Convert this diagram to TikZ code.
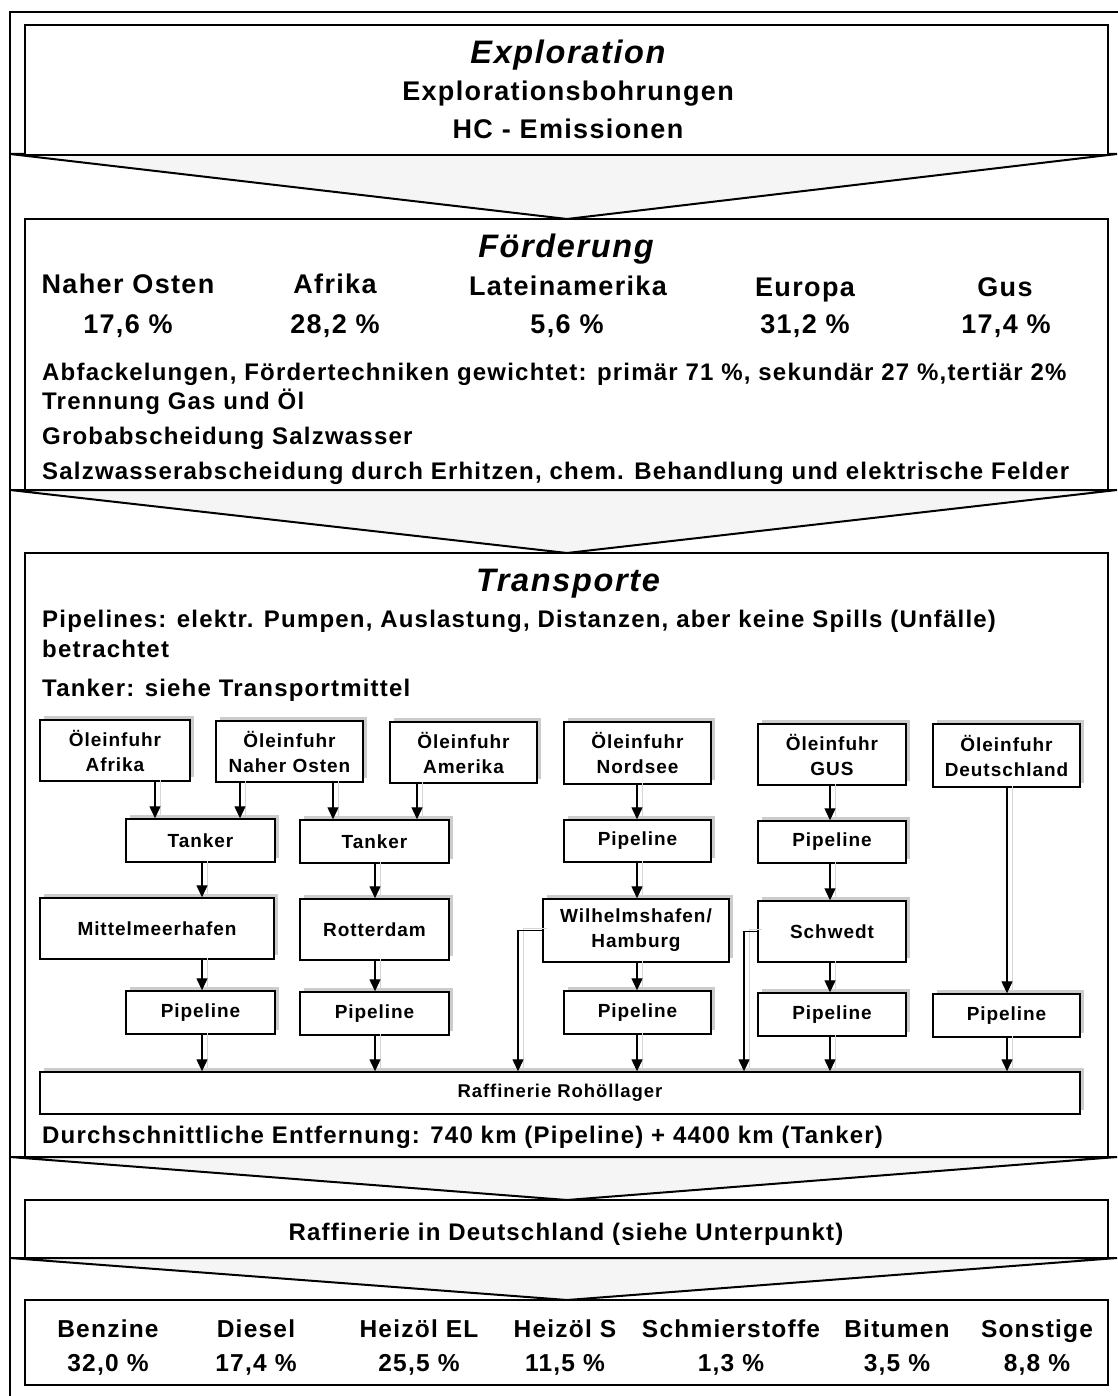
\documentclass[tikz,border=0pt]{standalone}
\usepackage{fontspec}
\setmainfont{Liberation Sans}[LetterSpace=5]
\usetikzlibrary{arrows.meta,shadows}
\newcommand\sbfont{\fontsize{19}{25}\selectfont\bfseries}
\newcommand\fz[1]{\fontsize{#1}{#1}\selectfont\bfseries}
\tikzset{
 big/.style={draw, line width=1.8pt, fill=white, inner sep=0},
 chev/.style={draw, line width=2pt, fill=black!4, line join=miter},
 sbox/.style={draw, line width=1.4pt, fill=white, inner sep=0, align=center, font=\sbfont,
   drop shadow={shadow xshift=4pt, shadow yshift=4pt, fill=black!20, opacity=1}},
 arr/.style={line width=1.2pt, -{Triangle[length=12pt,width=11pt]},
   preaction={draw=black!16, line width=1pt, -, transform canvas={xshift=5pt,yshift=2pt}}},
 txt/.style={inner sep=0, anchor=base west},
 ctxt/.style={inner sep=0, anchor=base},
 frame/.style={line width=1.8pt},
}
\begin{document}
\begin{tikzpicture}[x=1pt,y=-1pt]
\useasboundingbox (0,0) rectangle (1117,1396);
% outer frame
\draw[frame] (10,1400) -- (10,12) -- (1120,12);
% chevrons
\draw[chev] (10,154) -- (1117,154) -- (567,219) -- cycle;
\draw[chev] (10,490) -- (1117,490) -- (567,553) -- cycle;
\draw[chev] (10,1157) -- (1117,1157) -- (567,1200) -- cycle;
\draw[chev] (10,1258) -- (1117,1258) -- (567,1300) -- cycle;
% big boxes
\node[big, minimum width=1083, minimum height=130] (b1) at (566.5,90) {};
\node[big, minimum width=1083, minimum height=271] (b2) at (566.5,354.5) {};
\node[big, minimum width=1083, minimum height=604] (b3) at (566.5,855) {};
\node[big, minimum width=1083, minimum height=58] (b4) at (566.5,1229) {};
\node[big, minimum width=1083, minimum height=85] (b5) at (566.5,1342.5) {};
% box 1
\node[ctxt, font=\fz{32.5}\itshape] (t1a) at (568,64) {Exploration};
\node[ctxt, font=\fz{27}] (t1b) at (568,101) {Explorationsbohrungen};
\node[ctxt, font=\fz{27}] (t1c) at (568,139) {HC - Emissionen};
% box 2
\node[ctxt, font=\fz{32.5}\itshape] (t2a) at (566,258) {Förderung};
\node[ctxt, font=\fz{27}] (r1) at (128,294) {Naher Osten};
\node[ctxt, font=\fz{27}] (r2) at (335,294) {Afrika};
\node[ctxt, font=\fz{27}] (r3) at (568,295) {Lateinamerika};
\node[ctxt, font=\fz{27}] (r4) at (805,297) {Europa};
\node[ctxt, font=\fz{27}] (r5) at (1005,297) {Gus};
\node[ctxt, font=\fz{27}] (q1) at (128,333) {17,6 \%};
\node[ctxt, font=\fz{27}] (q2) at (335,333) {28,2 \%};
\node[ctxt, font=\fz{27}] (q3) at (567,333) {5,6 \%};
\node[ctxt, font=\fz{27}] (q4) at (805,333) {31,2 \%};
\node[ctxt, font=\fz{27}] (q5) at (1006,333) {17,4 \%};
\node[txt, font=\fz{24}] (l1) at (42,380) {Abfackelungen, Fördertechniken gewichtet: primär 71 \%, sekundär 27 \%,tertiär 2\%};
\node[txt, font=\fz{24}] (l2) at (42,409) {Trennung Gas und Öl};
\node[txt, font=\fz{24}] (l3) at (42,444) {Grobabscheidung Salzwasser};
\node[txt, font=\fz{24}] (l4) at (42,479) {Salzwasserabscheidung durch Erhitzen, chem. Behandlung und elektrische Felder};
% box 3
\node[ctxt, font=\fz{32.5}\itshape] (t3a) at (568,591) {Transporte};
\node[txt, font=\fz{24}] (m1) at (42,627) {Pipelines: elektr. Pumpen, Auslastung, Distanzen, aber keine Spills (Unfälle)};
\node[txt, font=\fz{24}] (m2) at (42,657) {betrachtet};
\node[txt, font=\fz{24}] (m3) at (42,696) {Tanker: siehe Transportmittel};
\node[txt, font=\fz{24}] (m4) at (42,1143) {Durchschnittliche Entfernung: 740 km (Pipeline) + 4400 km (Tanker)};
% small boxes
\node[sbox, minimum width=150, minimum height=61] (oA) at (115,750.5) {Öleinfuhr\\Afrika};
\node[sbox, minimum width=147, minimum height=61] (oN) at (289.5,751.5) {Öleinfuhr\\Naher Osten};
\node[sbox, minimum width=147, minimum height=61] (oAm) at (463.5,752.5) {Öleinfuhr\\Amerika};
\node[sbox, minimum width=147, minimum height=62] (oNs) at (637.5,753) {Öleinfuhr\\Nordsee};
\node[sbox, minimum width=148, minimum height=61] (oG) at (832,754.5) {Öleinfuhr\\GUS};
\node[sbox, minimum width=147, minimum height=63] (oD) at (1006.5,755.5) {Öleinfuhr\\Deutschland};
\node[sbox, minimum width=149, minimum height=43] (tk1) at (200.5,840.5) {Tanker};
\node[sbox, minimum width=149, minimum height=43] (tk2) at (374.5,841.5) {Tanker};
\node[sbox, minimum width=147, minimum height=42] (pNs) at (637.5,841) {Pipeline};
\node[sbox, minimum width=148, minimum height=42] (pG) at (832,842) {Pipeline};
\node[sbox, minimum width=234, minimum height=61] (mh) at (157,928.5) {Mittelmeerhafen};
\node[sbox, minimum width=149, minimum height=61] (rd) at (374.5,929.5) {Rotterdam};
\node[sbox, minimum width=186, minimum height=63] (wh) at (636,930.5) {Wilhelmshafen/\\Hamburg};
\node[sbox, minimum width=148, minimum height=61] (sw) at (832,931.5) {Schwedt};
\node[sbox, minimum width=149, minimum height=43] (p1) at (200.5,1012.5) {Pipeline};
\node[sbox, minimum width=149, minimum height=43] (p2) at (374.5,1013.5) {Pipeline};
\node[sbox, minimum width=147, minimum height=43] (p3) at (637.5,1012.5) {Pipeline};
\node[sbox, minimum width=148, minimum height=43] (p4) at (832,1014.5) {Pipeline};
\node[sbox, minimum width=147, minimum height=43] (p5) at (1006.5,1015.5) {Pipeline};
\node[sbox, minimum width=1040, minimum height=42, font=\fontsize{18.5}{18.5}\selectfont\bfseries] (rl) at (560,1093) {Raffinerie Rohöllager};
% arrows
\draw[arr] (155,0 |- oA.south) -- (155,0 |- tk1.north);
\draw[arr] (240,0 |- oN.south) -- (240,0 |- tk1.north);
\draw[arr] (333,0 |- oN.south) -- (333,0 |- tk2.north);
\draw[arr] (417,0 |- oAm.south) -- (417,0 |- tk2.north);
\draw[arr] (202,0 |- tk1.south) -- (202,0 |- mh.north);
\draw[arr] (375,0 |- tk2.south) -- (375,0 |- rd.north);
\draw[arr] (202,0 |- mh.south) -- (202,0 |- p1.north);
\draw[arr] (375,0 |- rd.south) -- (375,0 |- p2.north);
\draw[arr] (202,0 |- p1.south) -- (202,0 |- rl.north);
\draw[arr] (375,0 |- p2.south) -- (375,0 |- rl.north);
\draw[arr] (637,0 |- oNs.south) -- (637,0 |- pNs.north);
\draw[arr] (637,0 |- pNs.south) -- (637,0 |- wh.north);
\draw[arr] (637,0 |- wh.south) -- (637,0 |- p3.north);
\draw[arr] (637,0 |- p3.south) -- (637,0 |- rl.north);
\draw[arr] (wh.west) -| (518,0 |- rl.north);
\draw[arr] (830,0 |- oG.south) -- (830,0 |- pG.north);
\draw[arr] (830,0 |- pG.south) -- (830,0 |- sw.north);
\draw[arr] (830,0 |- sw.south) -- (830,0 |- p4.north);
\draw[arr] (830,0 |- p4.south) -- (830,0 |- rl.north);
\draw[arr] (sw.west) -| (744,0 |- rl.north);
\draw[arr] (1007,0 |- oD.south) -- (1007,0 |- p5.north);
\draw[arr] (1007,0 |- p5.south) -- (1007,0 |- rl.north);
% box 4
\node[ctxt, font=\fz{24}] (t4) at (566,1240) {Raffinerie in Deutschland (siehe Unterpunkt)};
% box 5
\node[ctxt, font=\fz{24.5}] (n1) at (108,1337) {Benzine};
\node[ctxt, font=\fz{24.5}] (n2) at (256,1337) {Diesel};
\node[ctxt, font=\fz{24.5}] (n3) at (419,1337) {Heizöl EL};
\node[ctxt, font=\fz{24.5}] (n4) at (565,1337) {Heizöl S};
\node[ctxt, font=\fz{24.5}] (n5) at (731,1337) {Schmierstoffe};
\node[ctxt, font=\fz{24.5}] (n6) at (897,1337) {Bitumen};
\node[ctxt, font=\fz{24.5}] (n7) at (1037,1337) {Sonstige};
\node[ctxt, font=\fz{24.5}] (v1) at (108,1371) {32,0 \%};
\node[ctxt, font=\fz{24.5}] (v2) at (256,1371) {17,4 \%};
\node[ctxt, font=\fz{24.5}] (v3) at (419,1371) {25,5 \%};
\node[ctxt, font=\fz{24.5}] (v4) at (565,1371) {11,5 \%};
\node[ctxt, font=\fz{24.5}] (v5) at (731,1371) {1,3 \%};
\node[ctxt, font=\fz{24.5}] (v6) at (897,1371) {3,5 \%};
\node[ctxt, font=\fz{24.5}] (v7) at (1037,1371) {8,8 \%};
\end{tikzpicture}
\end{document}
